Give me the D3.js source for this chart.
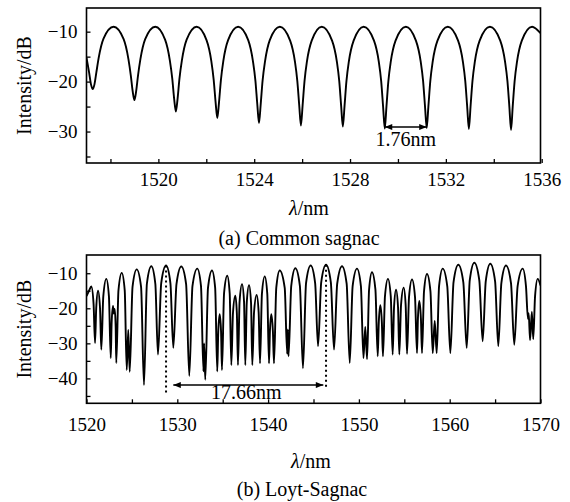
<!DOCTYPE html>
<html>
<head>
<meta charset="utf-8">
<script src="https://cdn.jsdelivr.net/npm/d3@7"></script>
<style>
  body { margin: 0; background: #fff; }
  svg { display: block; font-family: "Liberation Serif", "Times New Roman", serif; }
</style>
</head>
<body>
<div id="chart"></div>
<script>
// (a) Common sagnac - traced vertices [wavelength nm, intensity dB]
const traceA = [
    [1517.0, -15.2], [1517.11, -18.2], [1517.19, -20.6], [1517.26, -21.5], [1517.33, -20.6], [1517.41, -18.2], [1517.51, -15.2], [1517.71, -11.4],
    [1518.13, -9], [1518.55, -11.5], [1518.75, -15.5], [1518.85, -18.8], [1518.93, -22], [1519.0, -23.7], [1519.07, -22], [1519.15, -18.8], [1519.25, -15.5], [1519.45, -11.5],
    [1519.87, -9], [1520.28, -11.6], [1520.48, -15.8], [1520.58, -19.4], [1520.66, -23.5], [1520.73, -26], [1520.8, -23.5], [1520.88, -19.4], [1520.98, -15.8], [1521.18, -11.6],
    [1521.6, -9], [1522.01, -11.7], [1522.21, -15.9], [1522.31, -19.7], [1522.39, -24.2], [1522.46, -27.3], [1522.53, -24.2], [1522.61, -19.7], [1522.71, -15.9], [1522.91, -11.7],
    [1523.33, -9], [1523.75, -11.7], [1523.95, -16], [1524.05, -19.8], [1524.13, -24.6], [1524.2, -28.3], [1524.27, -24.6], [1524.35, -19.8], [1524.45, -16], [1524.65, -11.7],
    [1525.07, -9], [1525.5, -11.8], [1525.7, -16], [1525.8, -19.9], [1525.88, -24.8], [1525.95, -28.8], [1526.02, -24.8], [1526.1, -19.9], [1526.2, -16], [1526.4, -11.8],
    [1526.82, -9], [1527.25, -11.8], [1527.45, -16], [1527.55, -19.9], [1527.63, -24.9], [1527.7, -29], [1527.77, -24.9], [1527.85, -19.9], [1527.95, -16], [1528.15, -11.8],
    [1528.57, -9], [1529.0, -11.8], [1529.2, -16], [1529.3, -19.9], [1529.38, -25], [1529.45, -29.4], [1529.52, -25], [1529.6, -19.9], [1529.7, -16], [1529.9, -11.8],
    [1530.33, -9], [1530.75, -11.8], [1530.95, -16], [1531.05, -19.9], [1531.13, -25], [1531.2, -29.3], [1531.27, -25], [1531.35, -19.9], [1531.45, -16], [1531.65, -11.8],
    [1532.08, -9], [1532.51, -11.8], [1532.71, -16], [1532.81, -19.9], [1532.89, -25], [1532.96, -29.5], [1533.03, -25], [1533.11, -19.9], [1533.21, -16], [1533.41, -11.8],
    [1533.84, -9], [1534.27, -11.8], [1534.47, -16], [1534.57, -19.9], [1534.65, -25], [1534.72, -29.7], [1534.79, -25], [1534.87, -19.9], [1534.97, -16], [1535.17, -11.8],
    [1535.6, -9], [1535.95, -10.3]
];
const xTicksA = [1520, 1524, 1528, 1532, 1536];
const xMinorA = [1518, 1522, 1526, 1530, 1534];
const yTicksA = [-10, -20, -30];
const yMinorA = [-15, -25, -35];

// (b) Loyt-Sagnac - traced vertices [wavelength nm, intensity dB]
const traceB = [
    [1520.0, -16.5],
    [1520.28, -15], [1520.53, -13.8], [1520.78, -18.8], [1520.94, -29.9],
    [1521.07, -20], [1521.27, -15], [1521.49, -20], [1521.63, -31.8],
    [1521.85, -16.6], [1522.18, -11.6], [1522.47, -16.6], [1522.67, -34.2],
    [1522.77, -24], [1522.92, -19.3], [1523.0, -21.5], [1523.1, -20.2], [1523.21, -25], [1523.28, -35.6],
    [1523.52, -14.9], [1523.88, -9.9], [1524.21, -14.9], [1524.43, -37.6], [1524.6, -26.2], [1524.76, -38.1],
    [1525.07, -13.9], [1525.53, -8.9], [1526.01, -13.9], [1526.33, -41.9],
    [1526.65, -13], [1527.14, -8], [1527.58, -13], [1527.87, -33.2],
    [1528.23, -12.8], [1528.76, -7.8], [1529.24, -12.8], [1529.56, -31.3],
    [1529.91, -13.1], [1530.44, -8.1], [1530.97, -13.1], [1531.32, -39.3],
    [1531.67, -13.7], [1532.2, -8.7], [1532.61, -13.7], [1532.88, -38], [1532.95, -30], [1533.08, -40.4],
    [1533.38, -14.2], [1533.82, -9.2], [1534.17, -14.2], [1534.4, -38],
    [1534.51, -26.7], [1534.67, -21.7], [1534.82, -26.7], [1534.92, -37.6],
    [1535.15, -15.7], [1535.5, -10.7], [1535.77, -15.7], [1535.95, -36.2],
    [1536.13, -21.4], [1536.39, -16.4], [1536.56, -21.4], [1536.68, -36.2],
    [1536.86, -18.1], [1537.13, -13.1], [1537.35, -18.1], [1537.49, -36.2],
    [1537.65, -18.4], [1537.9, -13.4], [1538.12, -18.4], [1538.26, -36.2],
    [1538.45, -21.2], [1538.74, -16.2], [1538.96, -21.2], [1539.11, -35.7],
    [1539.32, -15.9], [1539.63, -10.9], [1539.91, -15.9], [1540.1, -35.7],
    [1540.2, -26.7], [1540.35, -21.7], [1540.53, -26.7], [1540.65, -35.7],
    [1540.9, -14.2], [1541.28, -9.2], [1541.83, -14.2], [1542.1, -33], [1542.17, -26], [1542.25, -33.7],
    [1542.55, -13.6], [1543.0, -8.6], [1543.5, -13.6], [1543.84, -37.1],
    [1544.18, -12.8], [1544.69, -7.8], [1545.18, -12.8], [1545.5, -30.8],
    [1545.85, -12.6], [1546.38, -7.6], [1546.91, -12.6], [1547.26, -31.8],
    [1547.61, -13], [1548.14, -8], [1548.65, -13], [1548.99, -35.6],
    [1549.31, -13.7], [1549.79, -8.7], [1550.22, -13.7], [1550.5, -34.2], [1550.7, -25.3], [1550.9, -34.5],
    [1551.12, -14.7], [1551.44, -9.7], [1551.82, -14.7], [1552.07, -33.7],
    [1552.19, -24.1], [1552.36, -19.1], [1552.53, -24.1], [1552.65, -33.7],
    [1552.87, -16.6], [1553.2, -11.6], [1553.51, -16.6], [1553.72, -33.2],
    [1553.87, -19.7], [1554.09, -14.7], [1554.31, -19.7], [1554.45, -33.2],
    [1554.64, -19.1], [1554.93, -14.1], [1555.15, -19.1], [1555.3, -33],
    [1555.52, -16.8], [1555.85, -11.8], [1556.18, -16.8], [1556.4, -32.8],
    [1556.5, -22.9], [1556.65, -17.9], [1556.83, -22.9], [1556.95, -32.8],
    [1557.17, -15.2], [1557.5, -10.2], [1557.88, -15.2], [1558.13, -32.8], [1558.35, -23.6], [1558.57, -32.8],
    [1558.83, -13.7], [1559.23, -8.7], [1559.73, -13.7], [1560.07, -32.8],
    [1560.42, -12.6], [1560.95, -7.6], [1561.5, -12.6], [1561.87, -31.3],
    [1562.21, -12], [1562.71, -7], [1563.26, -12], [1563.63, -29.4],
    [1563.97, -12.3], [1564.47, -7.3], [1565.0, -12.3], [1565.35, -30.8],
    [1565.69, -12.8], [1566.2, -7.8], [1566.75, -12.8], [1567.11, -30.4],
    [1567.48, -13.7], [1568.04, -8.7], [1568.4, -13.7], [1568.62, -23], [1568.7, -21.4],
    [1568.85, -29.1], [1569.05, -21], [1569.2, -28.8],
    [1569.4, -16.6], [1569.69, -11.6], [1570.0, -13.5]
];
const xTicksB = [1520, 1530, 1540, 1550, 1560, 1570];
const xMinorB = [1525, 1535, 1545, 1555, 1565];
const yTicksB = [-10, -20, -30, -40];
const yMinorB = [-15, -25, -35, -45];

// spacing annotations [from, to] in nm
const spacingA = [1529.45, 1531.2];
const spacingB = [1528.76, 1546.38];

class SpectrumPanel {
    constructor(svg, cfg) {
        this.svg = svg;
        this.cfg = cfg;
        this.initVis();
    }

    initVis() {
        let vis = this;
        const c = vis.cfg;

        vis.x = d3.scaleLinear().domain(c.xDomain).range([c.left, c.right]);
        vis.y = d3.scaleLinear().domain(c.yDomain).range([c.bottom, c.top]);

        vis.g = vis.svg.append("g");

        // clip so the trace stays inside the frame
        vis.g.append("clipPath").attr("id", c.id + "-clip")
            .append("rect")
            .attr("x", c.left).attr("y", c.top)
            .attr("width", c.right - c.left).attr("height", c.bottom - c.top);

        const line = d3.line()
            .x(d => vis.x(d[0]))
            .y(d => vis.y(d[1]))
            .curve(d3.curveMonotoneX);

        vis.g.append("path")
            .datum(c.trace)
            .attr("clip-path", `url(#${c.id}-clip)`)
            .attr("fill", "none")
            .attr("stroke", "#000")
            .attr("stroke-width", 1.9)
            .attr("stroke-linejoin", "round")
            .attr("d", line);

        vis.drawAxes();

        // frame
        vis.g.append("rect")
            .attr("x", c.left).attr("y", c.top)
            .attr("width", c.right - c.left).attr("height", c.bottom - c.top)
            .attr("fill", "none")
            .attr("stroke", "#000")
            .attr("stroke-width", 1.6);

        // axis titles
        vis.g.append("text")
            .attr("transform", `translate(${c.yTitleX},${(c.top + c.bottom) / 2}) rotate(-90)`)
            .attr("text-anchor", "middle")
            .style("font-size", "20px")
            .text("Intensity/dB");

        const xt = vis.g.append("text")
            .attr("x", c.xTitleX).attr("y", c.xTitleY)
            .attr("text-anchor", "middle")
            .style("font-size", "20px");
        xt.append("tspan").style("font-style", "italic").text("λ");
        xt.append("tspan").text("/nm");

        vis.g.append("text")
            .attr("x", c.captionX).attr("y", c.captionY)
            .attr("text-anchor", "middle")
            .style("font-size", "20px")
            .text(c.caption);
    }

    drawAxes() {
        let vis = this;
        const c = vis.cfg;

        const styleAxis = sel => {
            sel.select(".domain").remove();
            sel.selectAll("line").attr("stroke", "#000").attr("stroke-width", 1.3);
            sel.selectAll("text")
                .attr("fill", "#000")
                .style("font-family", "'Liberation Serif', serif")
                .style("font-size", "19px");
        };

        vis.g.append("g")
            .attr("transform", `translate(0,${c.bottom})`)
            .call(d3.axisBottom(vis.x).tickValues(c.xTicks).tickSize(-4).tickPadding(c.xPad).tickFormat(d3.format("d")))
            .call(styleAxis);
        vis.g.append("g")
            .attr("transform", `translate(0,${c.bottom})`)
            .call(d3.axisBottom(vis.x).tickValues(c.xMinor).tickSize(-4).tickFormat(""))
            .call(styleAxis);

        vis.g.append("g")
            .attr("transform", `translate(${c.left},0)`)
            .call(d3.axisLeft(vis.y).tickValues(c.yTicks).tickSize(-4).tickPadding(9))
            .call(styleAxis);
        vis.g.append("g")
            .attr("transform", `translate(${c.left},0)`)
            .call(d3.axisLeft(vis.y).tickValues(c.yMinor).tickSize(-4).tickFormat(""))
            .call(styleAxis);
    }
}

const svg = d3.select("#chart").append("svg")
    .attr("width", 570)
    .attr("height", 502);

const defs = svg.append("defs");
defs.append("marker")
    .attr("id", "arrow")
    .attr("viewBox", "0 0 10 8")
    .attr("refX", 10).attr("refY", 4)
    .attr("markerUnits", "userSpaceOnUse")
    .attr("markerWidth", 9).attr("markerHeight", 6)
    .attr("orient", "auto-start-reverse")
    .append("path")
    .attr("d", "M0,0 L10,4 L0,8 Z")
    .attr("fill", "#000");

const panelA = new SpectrumPanel(svg, {
    id: "a", trace: traceA,
    xDomain: [1517.0, 1535.95], yDomain: [-36.3, -5.26],
    left: 86.5, right: 540.5, top: 8, bottom: 163,
    xTicks: xTicksA, xMinor: xMinorA, yTicks: yTicksA, yMinor: yMinorA,
    xPad: 10,
    yTitleX: 31, xTitleX: 309, xTitleY: 215,
    caption: "(a) Common sagnac", captionX: 299, captionY: 245
});

const panelB = new SpectrumPanel(svg, {
    id: "b", trace: traceB,
    xDomain: [1520, 1570], yDomain: [-47.1, -4.8],
    left: 86.5, right: 540.5, top: 255, bottom: 403.3,
    xTicks: xTicksB, xMinor: xMinorB, yTicks: yTicksB, yMinor: yMinorB,
    xPad: 14,
    yTitleX: 31, xTitleX: 311, xTitleY: 468,
    caption: "(b) Loyt-Sagnac", captionX: 302, captionY: 496
});

// (a) spacing arrow between adjacent dips
panelA.g.append("line")
    .attr("x1", panelA.x(spacingA[0])).attr("x2", panelA.x(spacingA[1]))
    .attr("y1", panelA.y(-29.1)).attr("y2", panelA.y(-29.1))
    .attr("stroke", "#000").attr("stroke-width", 1.4)
    .attr("marker-start", "url(#arrow)")
    .attr("marker-end", "url(#arrow)");
panelA.g.append("text")
    .attr("x", panelA.x((spacingA[0] + spacingA[1]) / 2)).attr("y", panelA.y(-32.9))
    .attr("text-anchor", "middle")
    .style("font-size", "20px")
    .text("1.76nm");

// (b) dotted markers and spacing arrow
[[spacingB[0], -7.8, -44.8], [spacingB[1], -7.6, -42.9]].forEach(([wl, top, bot]) => {
    panelB.g.append("line")
        .attr("x1", panelB.x(wl)).attr("x2", panelB.x(wl))
        .attr("y1", panelB.y(top)).attr("y2", panelB.y(bot))
        .attr("stroke", "#000").attr("stroke-width", 2)
        .attr("stroke-dasharray", "2,3");
});
panelB.g.append("line")
    .attr("x1", panelB.x(1529.56)).attr("x2", panelB.x(1546.08))
    .attr("y1", panelB.y(-41.9)).attr("y2", panelB.y(-41.9))
    .attr("stroke", "#000").attr("stroke-width", 1.4)
    .attr("marker-start", "url(#arrow)")
    .attr("marker-end", "url(#arrow)");
panelB.g.append("text")
    .attr("x", panelB.x(1537.6)).attr("y", panelB.y(-45.9))
    .attr("text-anchor", "middle")
    .style("font-size", "20px")
    .text("17.66nm");
</script>
</body>
</html>
